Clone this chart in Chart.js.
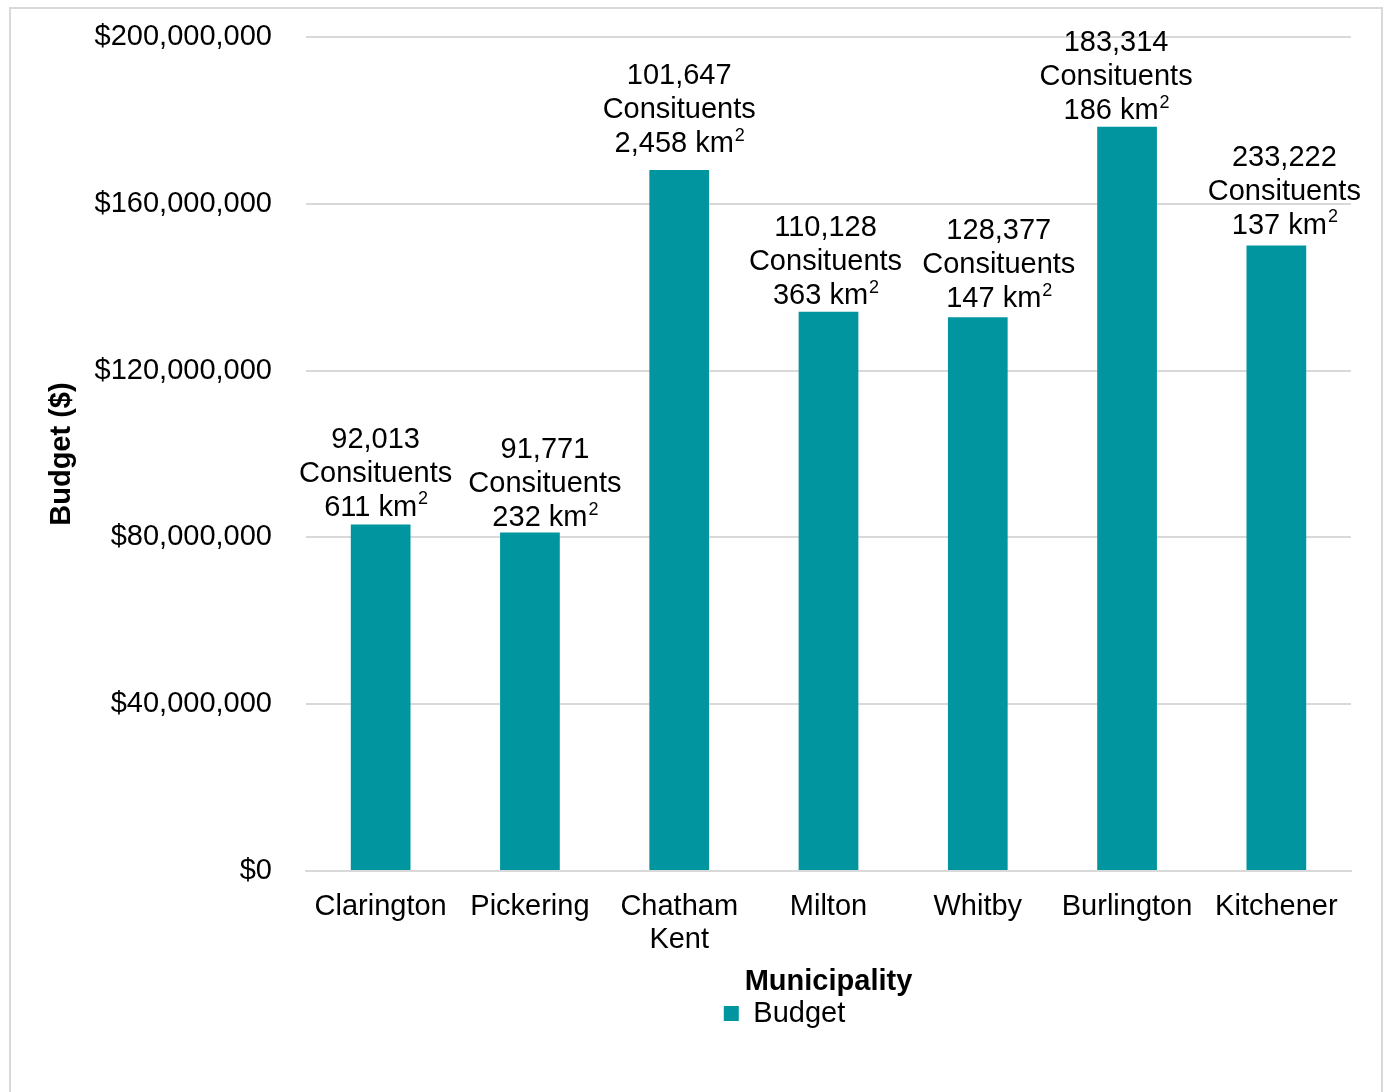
<!DOCTYPE html>
<html lang="en">
    <head>
        <meta charset="utf-8" />
        <script src="https://cdn.jsdelivr.net/npm/chart.js@4.4.1/dist/chart.umd.min.js"></script>
        <title>Budget by Municipality</title>
        <style>
            body { margin: 0; background: #fff; }
            #grafico { display: block; }
        </style>
    </head>
    <body>
        <canvas id="grafico" width="1386" height="1092"></canvas>
        <script>
            const municipios = ["Clarington", "Pickering", ["Chatham", "Kent"], "Milton", "Whitby", "Burlington", "Kitchener"];
            const presupuesto = [83100000, 81200000, 168100000, 134100000, 132800000, 178500000, 150000000];
            const constituyentes = ["92,013", "91,771", "101,647", "110,128", "128,377", "183,314", "233,222"];
            const areas = ["611", "232", "2,458", "363", "147", "186", "137"];

            // small nudges of the data labels (dx, extra gap) as in the original
            const ajusteX = [-5, 15, 0, -3, 21, -11, 8];
            const ajusteY = [0, -3, 9, -1, 1, -1, 3];

            const fuente = "'Liberation Sans', Arial, sans-serif";
            const tam = 29;
            const teal = "#00959f";
            const gris = "#d9d9d9";

            const etiquetas = {
                id: "etiquetas",
                afterDatasetsDraw(chart) {
                    const ctx = chart.ctx;
                    const meta = chart.getDatasetMeta(0);
                    const normal = tam + "px " + fuente;
                    const chica = "18px " + fuente;
                    ctx.save();
                    ctx.fillStyle = "#000";
                    ctx.textBaseline = "middle";
                    meta.data.forEach((barra, i) => {
                        const x = barra.x + ajusteX[i];
                        const y = barra.y - 17 - ajusteY[i];
                        ctx.font = normal;
                        ctx.textAlign = "center";
                        ctx.fillText(constituyentes[i], x, y - 68);
                        ctx.fillText("Consituents", x, y - 34);
                        // "km" with a raised 2
                        const base = areas[i] + " km";
                        const w1 = ctx.measureText(base).width;
                        ctx.font = chica;
                        const w2 = ctx.measureText("2").width;
                        const x0 = x - (w1 + w2) / 2;
                        ctx.textAlign = "left";
                        ctx.font = normal;
                        ctx.fillText(base, x0, y);
                        ctx.font = chica;
                        ctx.fillText("2", x0 + w1 + 1, y - 8);
                    });
                    ctx.restore();
                }
            };

            const marco = {
                id: "marco",
                beforeDraw(chart) {
                    const ctx = chart.ctx;
                    ctx.save();
                    ctx.fillStyle = "#fff";
                    ctx.fillRect(0, 0, chart.width, chart.height);
                    ctx.strokeStyle = gris;
                    ctx.lineWidth = 2;
                    ctx.strokeRect(10, 8, 1372, 1100);
                    ctx.restore();
                },
                afterLayout(chart) {
                    chart.legend.left += 104;
                    chart.legend.right += 104;
                }
            };

            new Chart(document.getElementById("grafico").getContext("2d"), {
                type: "bar",
                data: {
                    labels: municipios,
                    datasets: [
                        { label: "Budget", data: presupuesto, backgroundColor: teal, categoryPercentage: 1, barPercentage: 0.4 }
                    ]
                },
                options: {
                    responsive: false,
                    animation: false,
                    layout: { padding: { left: 10, right: 35, top: 37, bottom: 54 } },
                    scales: {
                        x: {
                            grid: { display: false },
                            border: { color: gris, width: 2 },
                            ticks: { color: "#000", font: { family: fuente, size: tam, lineHeight: 1.14 }, padding: 11, maxRotation: 0, autoSkip: false },
                            title: { display: true, text: "Municipality", color: "#000", font: { family: fuente, size: tam, weight: "bold" }, padding: { top: -3, bottom: 0 } }
                        },
                        y: {
                            min: 0,
                            max: 200000000,
                            afterFit(scale) {
                                scale.width = 296;
                                scale.paddingTop = 0;
                                scale.paddingBottom = 0;
                            },
                            grid: { color: gris, lineWidth: 2, drawTicks: false },
                            border: { display: false },
                            ticks: {
                                stepSize: 40000000,
                                padding: 34,
                                color: "#000",
                                font: { family: fuente, size: tam },
                                callback: (v) => "$" + v.toLocaleString("en-US")
                            },
                            title: { display: true, text: "Budget ($)", color: "#000", font: { family: fuente, size: tam, weight: "bold" }, padding: { top: 35, bottom: 0 } }
                        }
                    },
                    plugins: {
                        legend: {
                            position: "bottom",
                            labels: { color: "#000", font: { family: fuente, size: tam }, boxWidth: 15, boxHeight: 15, padding: 0 }
                        },
                        tooltip: { enabled: false }
                    }
                },
                plugins: [marco, etiquetas]
            });
        </script>
    </body>
</html>
